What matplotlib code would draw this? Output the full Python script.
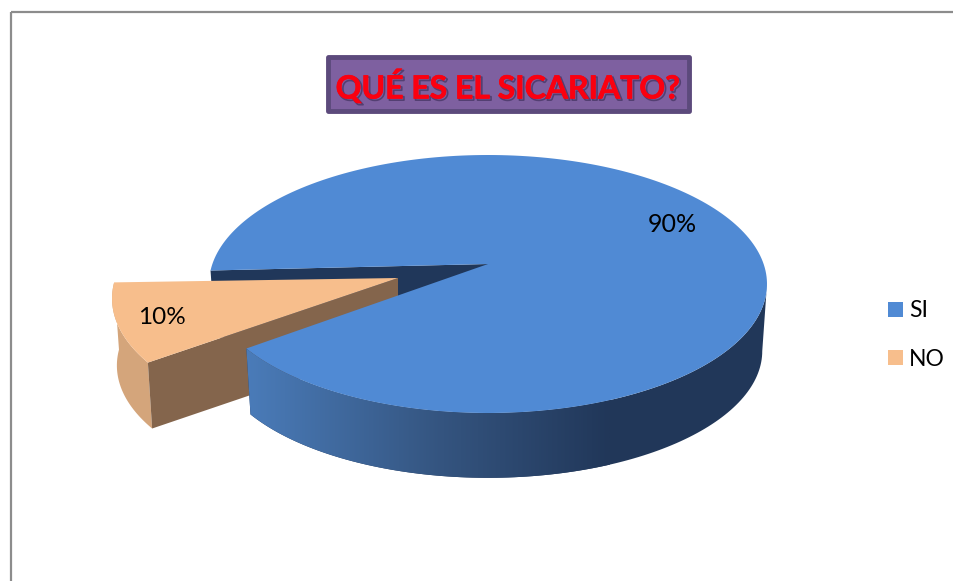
import numpy as np
import matplotlib
matplotlib.use('Agg')
import matplotlib.pyplot as plt
import matplotlib.patheffects as pe
from matplotlib.colors import LinearSegmentedColormap
from matplotlib.patches import Patch, Polygon, Rectangle

labels = ['SI', 'NO']
values = [90, 10]
title = 'QUÉ ES EL SICARIATO?'

plt.rcParams['font.family'] = ['Lato', 'DejaVu Sans']

fig = plt.figure(figsize=(9.54, 5.81), dpi=100)
ax = fig.add_axes([0, 0, 1, 1])
ax.set_xlim(0, 954)
ax.set_ylim(581, 0)
ax.axis('off')

# pie geometry, in picture pixels
cx, cy = 488, 284
rx, ry = 279, 129
apex_y = 264
depth = 67
shrink = 0.983
start = 210

# the 10% slice is pulled out, looks a little bigger and sits turned a bit
shift_x, shift_y = -90, 14
grow = 1.025
turn = -1.0


def top(ang, dx=0, dy=0, k=1.0):
    a = np.radians(ang)
    x = cx + rx * np.cos(a)
    y = cy - ry * np.sin(a)
    # scale around the apex of the slice
    x = cx + (x - cx) * k + dx
    y = apex_y + (y - apex_y) * k + dy
    return np.column_stack([x, y])


def bottom(ang, dx=0, dy=0, k=1.0):
    a = np.radians(ang)
    x = cx + rx * shrink * np.cos(a)
    y = cy - ry * shrink * np.sin(a) + depth
    x = cx + (x - cx) * k + dx
    y = apex_y + depth + (y - apex_y - depth) * k + dy
    return np.column_stack([x, y])


sweep = np.array(values) / sum(values) * 360
si_start, si_end = start, start + sweep[0]
no_start, no_end = si_end + turn, si_end + sweep[1] + turn

blue = '#508ad4'
orange = '#f7be8c'
dark = '#20375a'
brown = '#84654c'
tan = '#d4a57b'

# chart frame, open to the right and bottom of the picture
ax.add_patch(Rectangle((11, 12), 1000, 700, fill=False, ec='#8c8c8c', lw=1.6, zorder=1))

# inner wall of the big slice, seen through the gap
corner = top(np.array([si_end]))[0]
ax.add_patch(Polygon([corner, (cx, apex_y), (cx, apex_y + depth), bottom(np.array([si_end]))[0]],
                     fc=dark, ec='none', zorder=2))

# pulled out slice
ang = np.linspace(no_start, no_end, 40)
t = top(ang, shift_x, shift_y, grow)
b = bottom(ang, shift_x, shift_y, grow)
ax.add_patch(Polygon(np.vstack([t, b[::-1]]), fc=tan, ec='none', zorder=3))
apex2 = (cx + shift_x, apex_y + shift_y)
ax.add_patch(Polygon([apex2, t[-1], b[-1], (apex2[0], apex2[1] + depth)], fc=brown, ec='none', zorder=3))
ax.add_patch(Polygon(np.vstack([[apex2], t]), fc=orange, ec='none', zorder=4))

# outer wall of the big slice with the shading from left to right
ang = np.linspace(si_start, 360, 120)
wall = Polygon(np.vstack([top(ang), bottom(ang)[::-1]]), fc='none', ec='none', zorder=5)
ax.add_patch(wall)
cmap = LinearSegmentedColormap.from_list('wall', [(0, '#4b7dbb'), (0.55, '#34547f'), (1, '#213759')])
im = ax.imshow(np.linspace(0, 1, 256).reshape(1, -1), cmap=cmap, extent=(240, 610, 500, 280),
               aspect='auto', zorder=5)
im.set_clip_path(wall)
ax.set_xlim(0, 954)
ax.set_ylim(581, 0)

# flat wall past the gradient
ax.add_patch(Polygon(np.vstack([top(ang), bottom(ang)[::-1]]), fc='#213759', ec='none', zorder=4.5))

ang = np.linspace(si_start, si_end, 240)
ax.add_patch(Polygon(np.vstack([[(cx, apex_y)], top(ang)]), fc=blue, ec='none', zorder=6))

# value labels
ax.text(672, 224, f'{values[0]}%', fontsize=18, ha='center', va='center', color='black', zorder=7)
ax.text(162, 317, f'{values[1]}%', fontsize=17.5, ha='center', va='center', color='black', zorder=7)

# title box
ax.add_patch(Rectangle((328, 57), 361, 54, fc='#7e60a0', ec='#5c4a7c', lw=3.5, joinstyle='round', zorder=7))
ax.text(508, 86, title, fontsize=23, fontweight='bold', color='#fa0010', ha='center', va='center', zorder=8,
        path_effects=[pe.SimpleLineShadow(offset=(1.2, -1.2), shadow_color='#2a1f45', alpha=0.5, linewidth=1.2),
                      pe.Stroke(linewidth=0.5, foreground='#fa0010'), pe.Normal()])

# legend
handles = [Patch(fc=blue, ec='none'), Patch(fc=orange, ec='none')]
ax.legend(handles, labels, loc='center left', bbox_to_anchor=(874 / 954, 1 - 335 / 581),
          frameon=False, fontsize=16.5, handlelength=0.65, handleheight=0.65, handletextpad=0.28,
          labelspacing=1.2, borderpad=0, borderaxespad=0.6)

fig.savefig('out.png', dpi=100)
